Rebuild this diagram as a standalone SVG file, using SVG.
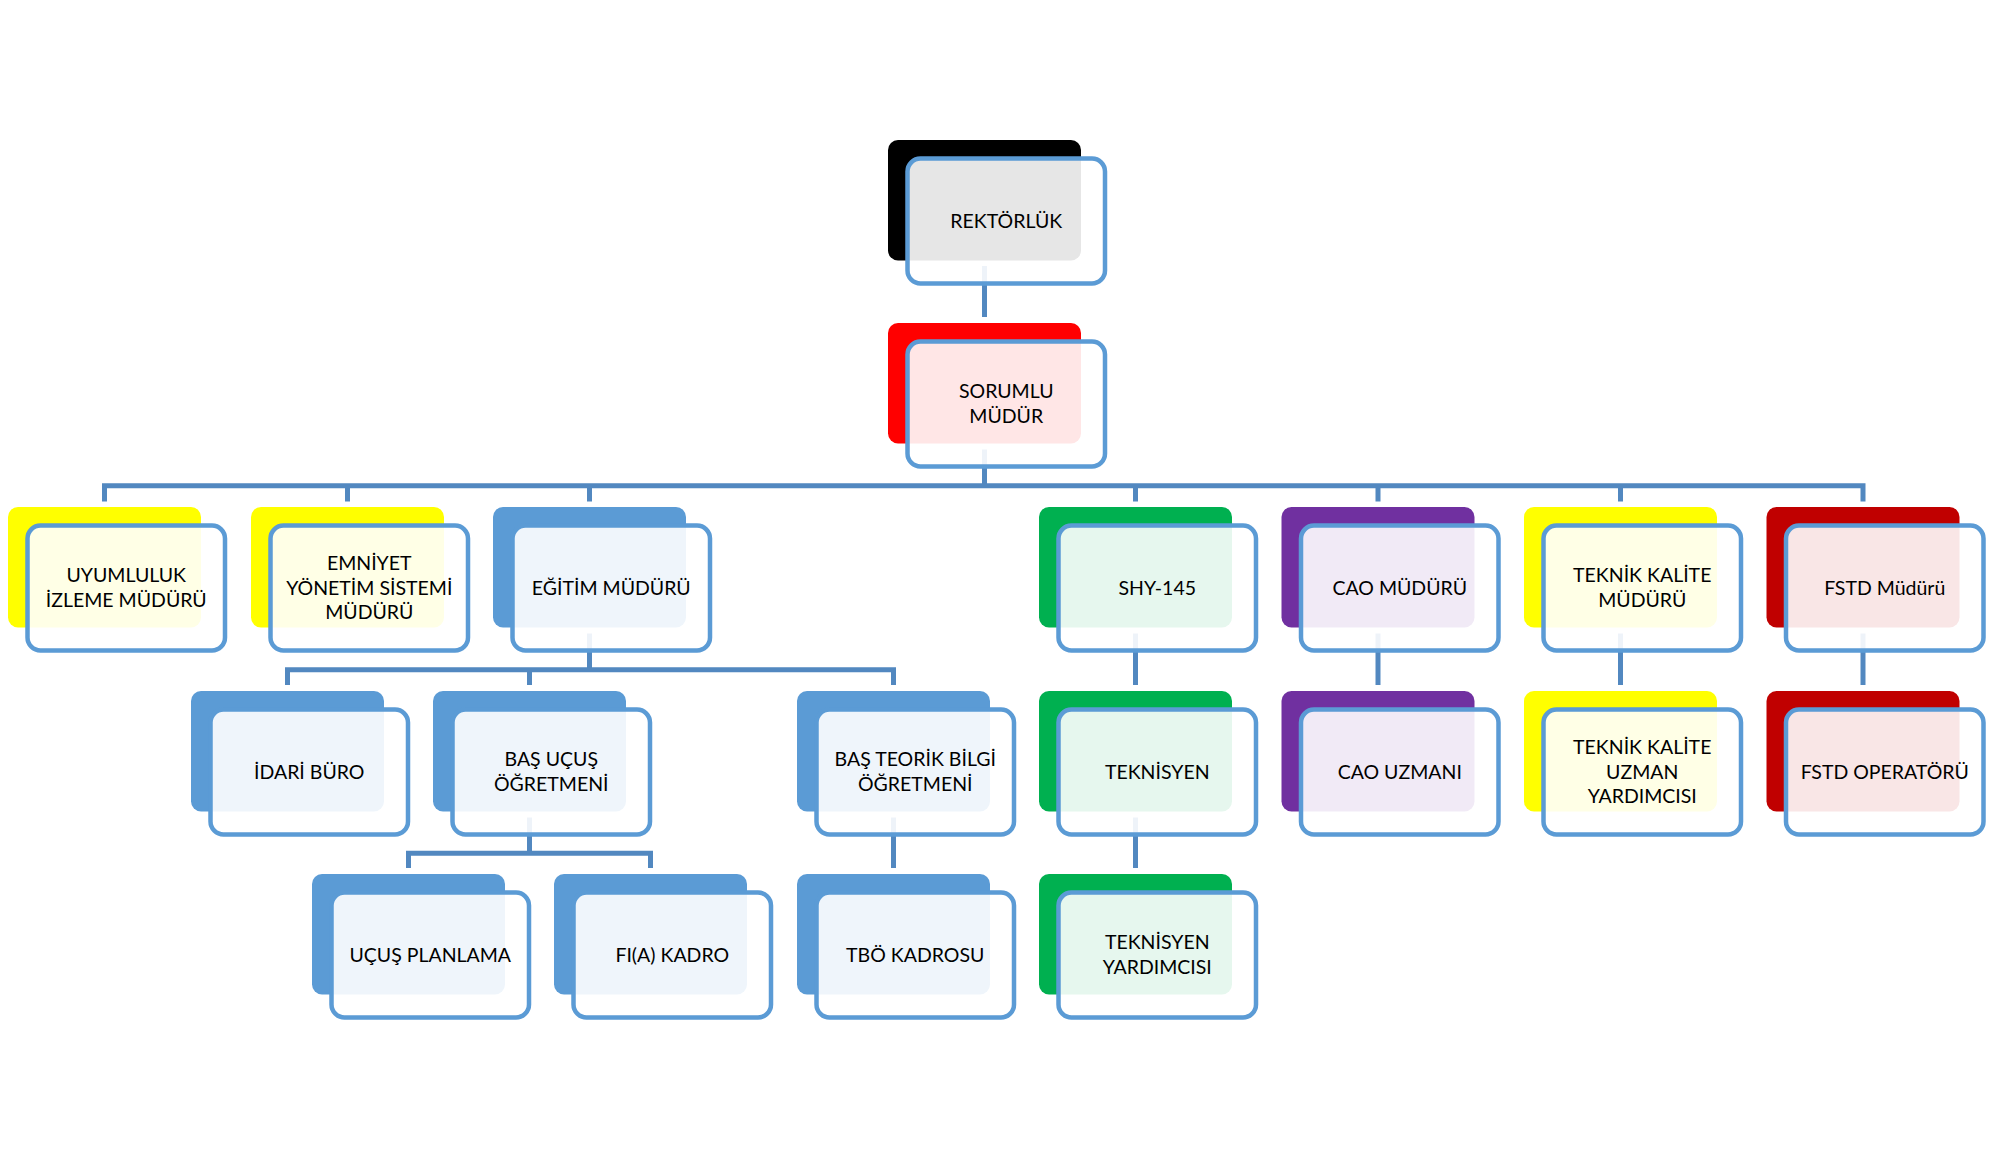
<svg xmlns="http://www.w3.org/2000/svg" width="1993" height="1155" viewBox="0 0 1993 1155">
<style>
.bk{stroke:none}
.fr{fill:#ffffff;fill-opacity:0.9;stroke:#5b9bd5;stroke-width:4.5}
.cn{fill:none;stroke:#5288c0;stroke-width:5;stroke-linejoin:miter;stroke-linecap:butt}
text{font-family:Lato,"Open Sans","DejaVu Sans",sans-serif;font-size:19.5px;fill:#000000;text-anchor:middle}
</style>
<defs>
<rect id="b" width="193" height="120.5" rx="10" ry="10"/>
<rect id="f" width="197.5" height="125" rx="13" ry="13"/>
</defs>
<rect width="1993" height="1155" fill="#ffffff"/>
<g id="connectors">
<path class="cn" d="M984.5,266 V317"/>
<path class="cn" d="M984.5,449.5 V485.8"/>
<path class="cn" d="M104.5,501.5 V485.8 H1863 V501.5"/>
<path class="cn" d="M347.5,485.8 V501.5 M589.5,485.8 V501.5 M1135.5,485.8 V501.5 M1378,485.8 V501.5 M1620.5,485.8 V501.5"/>
<path class="cn" d="M589.5,633.5 V669.7"/>
<path class="cn" d="M287.5,685 V669.7 H893.5 V685 M529.5,669.7 V685"/>
<path class="cn" d="M529.5,817.5 V853.3"/>
<path class="cn" d="M408.5,868 V853.3 H650.5 V868"/>
<path class="cn" d="M893.5,817.5 V868"/>
<path class="cn" d="M1135.5,633.5 V685 M1135.5,817.5 V868"/>
<path class="cn" d="M1378,633.5 V685"/>
<path class="cn" d="M1620.5,633.5 V685"/>
<path class="cn" d="M1863,633.5 V685"/>
</g>
<g id="n-rektorluk">
<use href="#b" x="888" y="140" fill="#000000"/>
<use href="#f" x="907.5" y="158.5" class="fr"/>
<text x="1006.25" y="227.7">REKTÖRLÜK</text>
</g>
<g id="n-sorumlu">
<use href="#b" x="888" y="323" fill="#ff0000"/>
<use href="#f" x="907.5" y="341.5" class="fr"/>
<text x="1006.25" y="398.45">SORUMLU</text>
<text x="1006.25" y="422.95">MÜDÜR</text>
</g>
<g id="n-uyumluluk">
<use href="#b" x="8" y="507" fill="#ffff00"/>
<use href="#f" x="27.5" y="525.5" class="fr"/>
<text x="126.25" y="582.45">UYUMLULUK</text>
<text x="126.25" y="606.95">İZLEME MÜDÜRÜ</text>
</g>
<g id="n-emniyet">
<use href="#b" x="251" y="507" fill="#ffff00"/>
<use href="#f" x="270.5" y="525.5" class="fr"/>
<text x="369.25" y="570.2">EMNİYET</text>
<text x="369.25" y="594.7">YÖNETİM SİSTEMİ</text>
<text x="369.25" y="619.2">MÜDÜRÜ</text>
</g>
<g id="n-egitim">
<use href="#b" x="493" y="507" fill="#5b9bd5"/>
<use href="#f" x="512.5" y="525.5" class="fr"/>
<text x="611.25" y="594.7">EĞİTİM MÜDÜRÜ</text>
</g>
<g id="n-shy">
<use href="#b" x="1039" y="507" fill="#00b050"/>
<use href="#f" x="1058.5" y="525.5" class="fr"/>
<text x="1157.25" y="594.7">SHY-145</text>
</g>
<g id="n-cao">
<use href="#b" x="1281.5" y="507" fill="#7030a0"/>
<use href="#f" x="1301" y="525.5" class="fr"/>
<text x="1399.75" y="594.7">CAO MÜDÜRÜ</text>
</g>
<g id="n-teknikkalite">
<use href="#b" x="1524" y="507" fill="#ffff00"/>
<use href="#f" x="1543.5" y="525.5" class="fr"/>
<text x="1642.25" y="582.45">TEKNİK KALİTE</text>
<text x="1642.25" y="606.95">MÜDÜRÜ</text>
</g>
<g id="n-fstd">
<use href="#b" x="1766.5" y="507" fill="#c00000"/>
<use href="#f" x="1786" y="525.5" class="fr"/>
<text x="1884.75" y="594.7">FSTD Müdürü</text>
</g>
<g id="n-idari">
<use href="#b" x="191" y="691" fill="#5b9bd5"/>
<use href="#f" x="210.5" y="709.5" class="fr"/>
<text x="309.25" y="778.7">İDARİ BÜRO</text>
</g>
<g id="n-basucus">
<use href="#b" x="433" y="691" fill="#5b9bd5"/>
<use href="#f" x="452.5" y="709.5" class="fr"/>
<text x="551.25" y="766.45">BAŞ UÇUŞ</text>
<text x="551.25" y="790.95">ÖĞRETMENİ</text>
</g>
<g id="n-basteorik">
<use href="#b" x="797" y="691" fill="#5b9bd5"/>
<use href="#f" x="816.5" y="709.5" class="fr"/>
<text x="915.25" y="766.45">BAŞ TEORİK BİLGİ</text>
<text x="915.25" y="790.95">ÖĞRETMENİ</text>
</g>
<g id="n-teknisyen">
<use href="#b" x="1039" y="691" fill="#00b050"/>
<use href="#f" x="1058.5" y="709.5" class="fr"/>
<text x="1157.25" y="778.7">TEKNİSYEN</text>
</g>
<g id="n-caouzmani">
<use href="#b" x="1281.5" y="691" fill="#7030a0"/>
<use href="#f" x="1301" y="709.5" class="fr"/>
<text x="1399.75" y="778.7">CAO UZMANI</text>
</g>
<g id="n-tkuzman">
<use href="#b" x="1524" y="691" fill="#ffff00"/>
<use href="#f" x="1543.5" y="709.5" class="fr"/>
<text x="1642.25" y="754.2">TEKNİK KALİTE</text>
<text x="1642.25" y="778.7">UZMAN</text>
<text x="1642.25" y="803.2">YARDIMCISI</text>
</g>
<g id="n-fstdop">
<use href="#b" x="1766.5" y="691" fill="#c00000"/>
<use href="#f" x="1786" y="709.5" class="fr"/>
<text x="1884.75" y="778.7">FSTD OPERATÖRÜ</text>
</g>
<g id="n-ucusplanlama">
<use href="#b" x="312" y="874" fill="#5b9bd5"/>
<use href="#f" x="331.5" y="892.5" class="fr"/>
<text x="430.25" y="961.7">UÇUŞ PLANLAMA</text>
</g>
<g id="n-fia">
<use href="#b" x="554" y="874" fill="#5b9bd5"/>
<use href="#f" x="573.5" y="892.5" class="fr"/>
<text x="672.25" y="961.7">FI(A) KADRO</text>
</g>
<g id="n-tbo">
<use href="#b" x="797" y="874" fill="#5b9bd5"/>
<use href="#f" x="816.5" y="892.5" class="fr"/>
<text x="915.25" y="961.7">TBÖ KADROSU</text>
</g>
<g id="n-teknyrd">
<use href="#b" x="1039" y="874" fill="#00b050"/>
<use href="#f" x="1058.5" y="892.5" class="fr"/>
<text x="1157.25" y="949.45">TEKNİSYEN</text>
<text x="1157.25" y="973.95">YARDIMCISI</text>
</g>
</svg>
